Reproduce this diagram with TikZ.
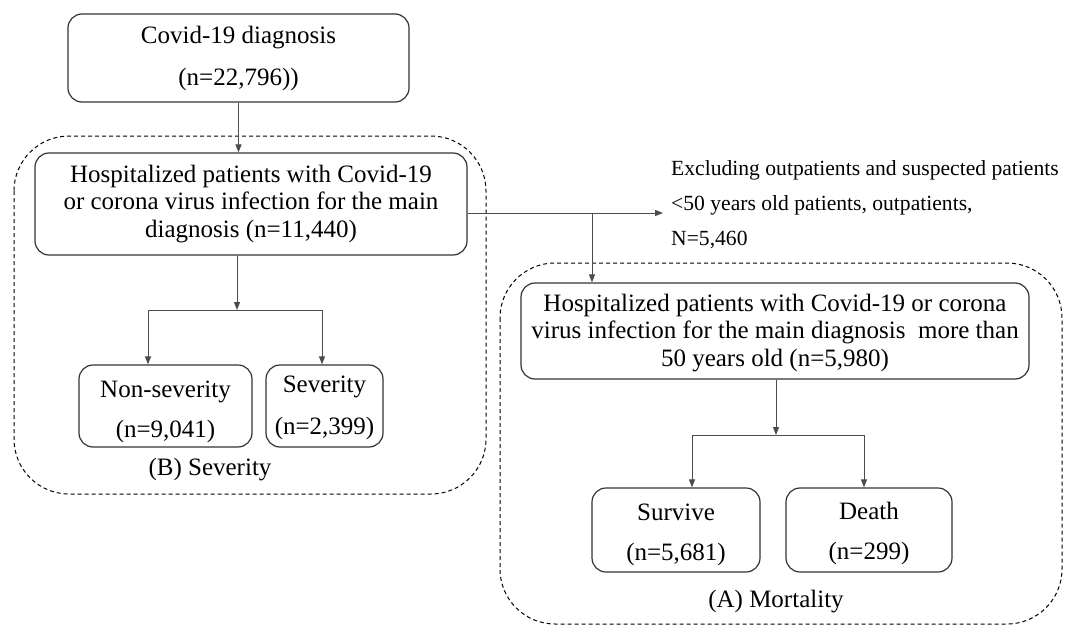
\documentclass[tikz,border=0pt]{standalone}
\usepackage{fontspec}
\setmainfont{Liberation Serif}
\usetikzlibrary{arrows.meta,calc}
\begin{document}
\begin{tikzpicture}[x=1pt,y=-1pt,
  box/.style={draw=black!80,line width=1.2pt,rounded corners=14pt,align=center,inner sep=0pt},
  txt/.style={align=center,inner sep=0pt,font=\fontsize{25}{40}\selectfont},
  conn/.style={draw=black!70,line width=1pt,-{Triangle[length=8pt,width=6pt]}},
  plain/.style={draw=black!70,line width=1pt},
  grp/.style={draw=black,line width=1pt,dash pattern=on 4pt off 3pt,rounded corners=55pt},
  big/.style={font=\fontsize{25}{27.5}\selectfont},
  side/.style={font=\fontsize{21.6}{35}\selectfont,align=left,inner sep=0pt}]
\useasboundingbox (0,0) rectangle (1066,626);
% group frames
\draw[grp] (14,136) rectangle (486,494);
\draw[grp] (500,263) rectangle (1062,624);
% boxes
\node[box,minimum width=341pt,minimum height=88pt,font=\fontsize{25}{42}\selectfont] (top) at (238.5,58) {Covid-19 diagnosis\\(n=22,796))};
\node[box,big,minimum width=432pt,minimum height=102pt] (hosp) at (251,204) {Hospitalized patients with Covid-19\\or corona virus infection for the main\\diagnosis (n=11,440)};
\node[box,minimum width=173pt,minimum height=82pt] (nons) at (165.5,406) {};
\node[txt] (nonsT) at ([yshift=-6pt]nons.center) {Non-severity\\(n=9,041)};
\node[box,minimum width=117pt,minimum height=82pt] (sev) at (324.5,406) {};
\node[txt,font=\fontsize{25}{42}\selectfont] (sevT) at ([yshift=-2pt]sev.center) {Severity\\(n=2,399)};
\node[box,big,minimum width=508pt,minimum height=96pt] (hosp50) at (775,331) {};
\node[big,align=center,inner sep=0pt] (hosp50T) at ([yshift=-2pt]hosp50.center) {Hospitalized patients with Covid-19 or corona\\virus infection for the main diagnosis\ \ more than\\50 years old (n=5,980)};
\node[box,minimum width=168pt,minimum height=84pt] (surv) at (676,530) {};
\node[txt] (survT) at ([yshift=-5pt]surv.center) {Survive\\(n=5,681)};
\node[box,minimum width=166pt,minimum height=84pt] (death) at (869,530) {};
\node[txt] (deathT) at ([yshift=-3pt]death.center) {Death\\(n=299)};
% labels
\node[big] (lblB) at (210,470) {(B) Severity};
\node[big] (lblA) at (776,602) {(A) Mortality};
\node[side,anchor=north west] (excl) at (671,160) {Excluding outpatients and suspected patients\\<50 years old patients, outpatients,\\N=5,460};
% connectors
\draw[conn] (top.south) -- (top.south |- hosp.north);
\coordinate (bB) at (237,310);
\draw[conn] (hosp.south -| bB) -- (bB);
\coordinate (bBl) at (148,310);
\coordinate (bBr) at (322,310);
\draw[plain] (bBl) -- (bBr);
\draw[conn] (bBl) -- (bBl |- nons.north);
\draw[conn] (bBr) -- (bBr |- sev.north);
\coordinate (split) at (592,213);
\coordinate (exarr) at (663,213);
\draw[conn] ([yshift=-9pt]hosp.east) -- (exarr);
\draw[conn] (split) -- (split |- hosp50.north);
\coordinate (bA) at (776,435);
\draw[conn] (hosp50.south -| bA) -- (bA);
\coordinate (bAl) at (692,435);
\coordinate (bAr) at (864,435);
\draw[plain] (bAl) -- (bAr);
\draw[conn] (bAl) -- (bAl |- surv.north);
\draw[conn] (bAr) -- (bAr |- death.north);
\end{tikzpicture}
\end{document}
